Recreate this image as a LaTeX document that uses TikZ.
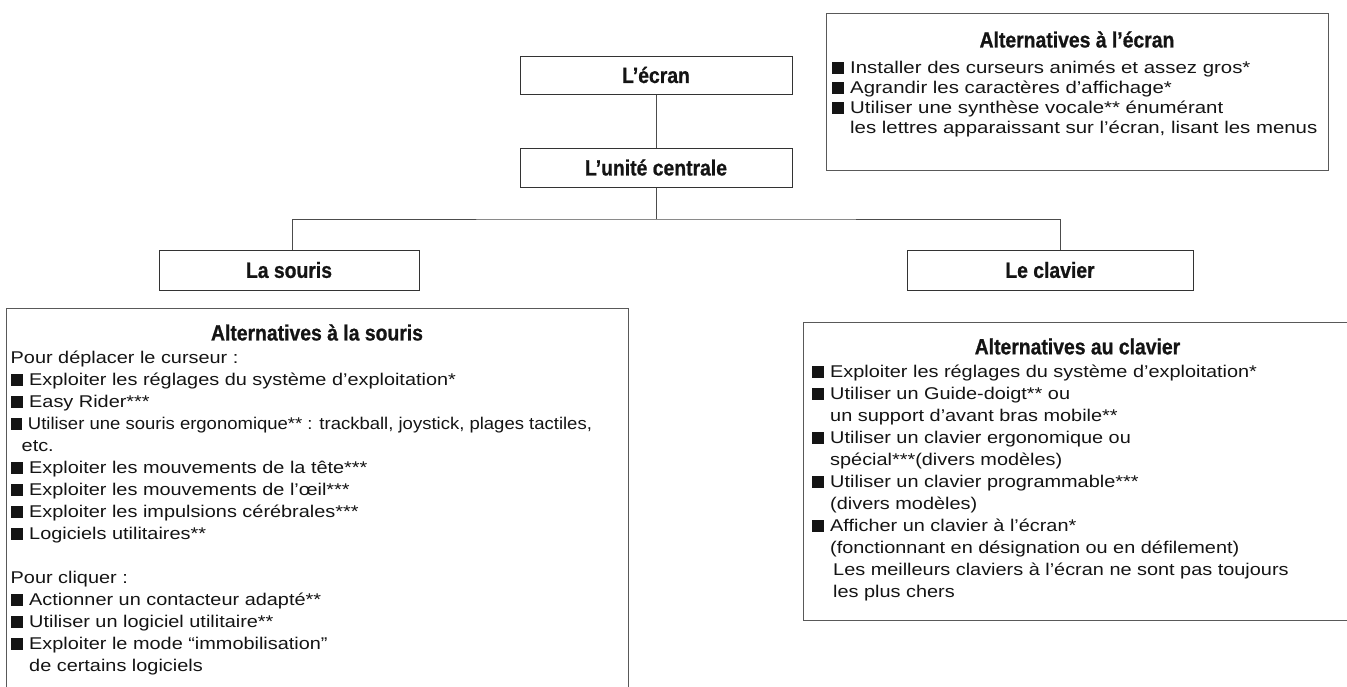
\documentclass[tikz,border=0pt]{standalone}
\usepackage{fontspec}
\usepackage{graphicx}
\setmainfont{Liberation Sans}
\newfontfamily\bodyfont[FakeStretch=1.17]{Liberation Sans}
\newfontfamily\widefont[FakeStretch=1.2]{Liberation Sans}
\newfontfamily\headfont[FakeStretch=0.88,BoldFeatures={FakeBold=0.8}]{Liberation Sans}

\newcommand\sq{\rule{12pt}{12pt}\hspace{6.5pt}}
\newcommand\ind{\hspace*{18.5pt}}
\newcommand\firstline{\rule{0pt}{16pt}}

\begin{document}
\begin{tikzpicture}[x=1pt,y=-1pt,
    partbox/.style={draw=black!80, line width=1pt, minimum height=39pt, inner sep=0pt,
      font=\headfont\bfseries\fontsize{22}{24}\selectfont, text=black!92},
    altframe/.style={draw=black!65, line width=1pt, inner sep=0pt},
    alttitle/.style={font=\headfont\bfseries\fontsize{22}{24}\selectfont, text=black!92},
    altitems/.style={anchor=north west, align=left, inner sep=0pt,
      font=\bodyfont\fontsize{17}{22}\selectfont, text=black!92},
    link/.style={draw=black!70, line width=1pt}]

  \useasboundingbox (0,0) rectangle (1347,686);
  \clip (0,0) rectangle (1347,686);

  % the parts of the computer
  \node [partbox, minimum width=272pt, minimum height=38pt] (ecran) at (656,75) {L’écran};
  \node [partbox, minimum width=272pt] (unite) at (656,167.5) {L’unité centrale};
  \node [partbox, minimum width=260pt, minimum height=40pt] (souris) at (289,270) {La souris};
  \node [partbox, minimum width=286pt, minimum height=40pt] (clavier) at (1050,270) {Le clavier};
  \coordinate (fork) at (656,219);

  \draw [link] (ecran) -- (unite);
  \draw [link] (unite) -- (fork);
  \draw [link] ([xshift=3pt]souris.north) |- (fork) -| ([xshift=10pt]clavier.north);

  % alternatives
  \node [altframe, minimum width=502pt, minimum height=157pt] (altecran) at (1077,91.5) {};
  \node [altframe, minimum width=622pt, minimum height=400pt] (altsouris) at (317,508) {};
  \node [altframe, minimum width=549pt, minimum height=298pt] (altclavier) at (1077.5,471) {};

  \node [alttitle] (tecran) at ([yshift=-27pt]altecran.north) {Alternatives à l’écran};
  \node [alttitle] (tsouris) at ([yshift=-25pt]altsouris.north) {Alternatives à la souris};
  \node [alttitle] (tclavier) at ([yshift=-25pt]altclavier.north) {Alternatives au clavier};

  \node [altitems, font=\widefont\fontsize{17}{20}\selectfont] (lecran)
    at ([xshift=6pt,yshift=-45pt]altecran.north west)
    {\firstline\sq Installer des curseurs animés et assez gros*\\
     \sq Agrandir les caractères d’affichage*\\
     \sq Utiliser une synthèse vocale** énumérant\\
     \ind les lettres apparaissant sur l’écran, lisant les menus};

  \node [altitems] (lsouris) at ([xshift=5pt,yshift=-40pt]altsouris.north west)
    {\firstline Pour déplacer le curseur :\\
     \sq Exploiter les réglages du système d’exploitation*\\
     \sq Easy Rider***\\
     \scalebox{0.93}[1]{\sq Utiliser une souris ergonomique** : trackball, joystick, plages tactiles,}\\
     \hspace*{11pt}etc.\\
     \sq Exploiter les mouvements de la tête***\\
     \sq Exploiter les mouvements de l’œil***\\
     \sq Exploiter les impulsions cérébrales***\\
     \sq Logiciels utilitaires**\\[22pt]
     Pour cliquer :\\
     \sq Actionner un contacteur adapté**\\
     \sq Utiliser un logiciel utilitaire**\\
     \sq Exploiter le mode “immobilisation”\\
     \ind de certains logiciels};

  \node [altitems] (lclavier) at ([xshift=9pt,yshift=-40pt]altclavier.north west)
    {\firstline\sq Exploiter les réglages du système d’exploitation*\\
     \sq Utiliser un Guide-doigt** ou\\
     \ind un support d’avant bras mobile**\\
     \sq Utiliser un clavier ergonomique ou\\
     \ind spécial***(divers modèles)\\
     \sq Utiliser un clavier programmable***\\
     \ind (divers modèles)\\
     \sq Afficher un clavier à l’écran*\\
     \ind (fonctionnant en désignation ou en défilement)\\
     \ind\hspace*{3pt}Les meilleurs claviers à l’écran ne sont pas toujours\\
     \ind\hspace*{3pt}les plus chers};

\end{tikzpicture}
\end{document}
